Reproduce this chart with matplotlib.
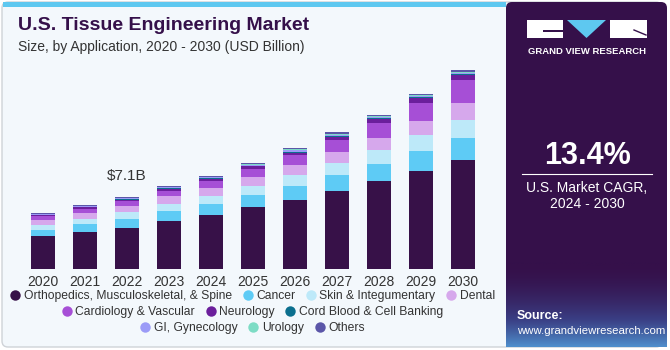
import matplotlib
matplotlib.use("Agg")
import matplotlib.pyplot as plt
import numpy as np
from matplotlib.patches import FancyBboxPatch, Rectangle, Polygon
from matplotlib.lines import Line2D

plt.rcParams['font.family'] = ['Liberation Sans', 'DejaVu Sans']

# ---- data (USD Billion) ----
years = ['2020', '2021', '2022', '2023', '2024', '2025', '2026', '2027', '2028', '2029', '2030']
ortho = [3.29, 3.68, 4.05, 4.73, 5.32, 6.08, 6.84, 7.66, 8.68, 9.63, 10.78]
cancer = [0.59, 0.72, 0.85, 0.95, 1.05, 1.18, 1.38, 1.58, 1.68, 1.97, 2.17]
skin = [0.49, 0.56, 0.69, 0.76, 0.85, 0.95, 1.08, 1.22, 1.35, 1.58, 1.77]
dental = [0.49, 0.56, 0.62, 0.72, 0.79, 0.89, 0.99, 1.12, 1.25, 1.45, 1.64]
cardio = [0.33, 0.38, 0.46, 0.55, 0.68, 0.80, 0.92, 1.15, 1.45, 1.78, 2.25]
neuro = [0.13, 0.17, 0.18, 0.22, 0.22, 0.22, 0.27, 0.30, 0.42, 0.48, 0.50]
cord = [0.05, 0.05, 0.06, 0.06, 0.06, 0.07, 0.09, 0.10, 0.08, 0.08, 0.10]
gi = [0.05, 0.05, 0.07, 0.06, 0.07, 0.08, 0.12, 0.12, 0.10, 0.09, 0.12]
uro = [0.04, 0.04, 0.05, 0.05, 0.06, 0.07, 0.10, 0.10, 0.08, 0.07, 0.10]
others = [0.06, 0.06, 0.08, 0.07, 0.08, 0.10, 0.14, 0.14, 0.12, 0.11, 0.14]

labels = ['Orthopedics, Musculoskeletal, & Spine', 'Cancer', 'Skin & Integumentary', 'Dental',
          'Cardiology & Vascular', 'Neurology', 'Cord Blood & Cell Banking',
          'GI, Gynecology', 'Urology', 'Others']
series = [ortho, cancer, skin, dental, cardio, neuro, cord, gi, uro, others]
colors = ['#371148', '#5ecbf5', '#bde9f9', '#d6a8ec', '#a64fd6', '#6b1f9c', '#0b6f8e',
          '#9b9bf7', '#7ddcc5', '#5b56a8']

W, H = 670, 350
fig = plt.figure(figsize=(6.7, 3.5), dpi=100)
fig.patch.set_facecolor('white')

# background layer in pixel coords
bg = fig.add_axes([0, 0, 1, 1], zorder=0)
bg.axis('off')
bg.add_patch(FancyBboxPatch((2, 2), 660, 345, boxstyle='round,pad=0,rounding_size=6',
                            fc='#f3f8fc', ec='#cfd3d8', lw=1))
bg.add_patch(Rectangle((3, 2), 503, 5, fc='#5ec8f0', ec='none'))
bg.add_patch(FancyBboxPatch((506, 2), 161, 345, boxstyle='round,pad=0,rounding_size=6',
                            fc='#35104a', ec='none'))
# bottom glow of the side panel
grad = np.linspace(0, 1, 100).reshape(-1, 1) ** 1.8
cmap = matplotlib.colors.LinearSegmentedColormap.from_list('g', ['#35104a', '#3a3f85', '#4f8fcc'])
bg.imshow(grad, extent=(506, 667, 347, 262), cmap=cmap, aspect='auto', zorder=1)
bg.set_xlim(0, W)
bg.set_ylim(H, 0)

bg.text(18, 26, 'U.S. Tissue Engineering Market', fontsize=14, fontweight='bold',
        color='#35104a', va='center')
bg.text(18, 47, 'Size, by Application, 2020 - 2030 (USD Billion)', fontsize=10,
        color='#333333', va='center')

# logo
bg.add_patch(Rectangle((527, 20), 36, 18, fc='white', ec='none', zorder=2))
bg.add_patch(Rectangle((543, 30), 20, 2, fc='#35104a', ec='none', zorder=3))
bg.add_patch(Polygon([(567, 20), (606, 20), (586.5, 38)], closed=True, fc='#5ec8f0', ec='none', zorder=2))
bg.add_patch(Rectangle((610, 20), 37, 18, fc='white', ec='none', zorder=2))
bg.plot([634, 646], [30, 35], color='#35104a', lw=1, zorder=3)
bg.text(587, 51, 'GRAND VIEW RESEARCH', fontsize=6.8, fontweight='bold', color='white',
        ha='center', va='center', zorder=3)

bg.text(587, 156, '13.4%', fontsize=22, fontweight='bold', color='white', ha='center', va='center')
bg.plot([522, 652], [173.5, 173.5], color='white', lw=0.8)
bg.text(587, 188, 'U.S. Market CAGR,', fontsize=10, color='white', ha='center', va='center')
bg.text(587, 204, '2024 - 2030', fontsize=10, color='white', ha='center', va='center')
bg.text(517, 316, 'Source:', fontsize=9, fontweight='bold', color='white', va='center', zorder=3)
bg.text(517, 331, 'www.grandviewresearch.com', fontsize=8.2, color='white', va='center', zorder=3)

# ---- chart ----
ax = fig.add_axes([22 / W, 81 / H, 462 / W, 209 / H], zorder=2)
ax.patch.set_alpha(0)
x = np.arange(len(years))
bottom = np.zeros(len(years))
for vals, c, lab in zip(series, colors, labels):
    ax.bar(x, vals, width=0.58, bottom=bottom, color=c, edgecolor='none', label=lab)
    bottom += np.array(vals)

ax.set_xlim(-0.5, len(years) - 0.5)
ax.set_ylim(0, 20.6)
ax.set_xticks(x)
ax.set_xticklabels(years, fontsize=10, color='#333333')
ax.tick_params(axis='x', length=0, pad=4)
ax.set_yticks([])
for s in ax.spines.values():
    s.set_visible(False)

ax.annotate('$7.1B', xy=(2, bottom[2]), xytext=(0, 10), textcoords='offset points',
            ha='center', va='bottom', fontsize=11, color='#333333')


# legend in three rows
def mk(c):
    return Line2D([], [], marker='o', ls='none', markersize=7.5, markerfacecolor=c, markeredgecolor='none')


rows = [(0, 4, 296), (4, 7, 312), (7, 10, 328)]
for a, b_, yy in rows:
    fig.legend([mk(colors[i]) for i in range(a, b_)], labels[a:b_], ncol=b_ - a,
               loc='center', bbox_to_anchor=(252 / W, 1 - yy / H), frameon=False,
               fontsize=8.7, handletextpad=0.2, columnspacing=0.8, handlelength=1.0,
               borderpad=0, labelcolor='#333333')

fig.savefig('out.png', dpi=100, facecolor=fig.get_facecolor())
